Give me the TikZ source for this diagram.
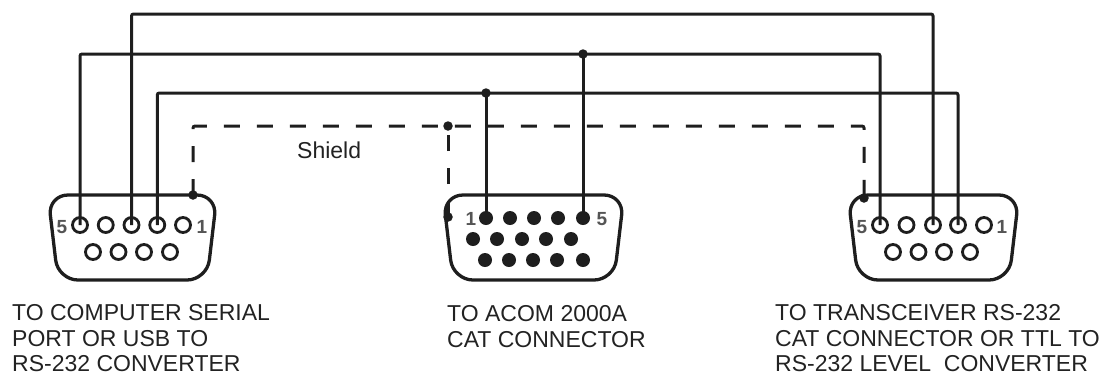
\documentclass[tikz,border=0pt]{standalone}
\usepackage{fontspec}
\setmainfont{Liberation Sans}
\definecolor{ink}{HTML}{1E1E1E}
\definecolor{textc}{HTML}{222222}
\definecolor{numc}{HTML}{555555}
\begin{document}
\begin{tikzpicture}[x=1pt,y=-1pt,
  wire/.style={line width=3pt, draw=ink, rounded corners=2pt},
  shieldwire/.style={wire, dash pattern=on 16pt off 17pt},
  shell/.style={line width=3.3pt, draw=ink, fill=white, rounded corners=20pt},
  openpin/.style={circle, draw=ink, line width=2.8pt, fill=white, minimum size=15pt, inner sep=0pt},
  fullpin/.style={circle, fill=ink, minimum size=14pt, inner sep=0pt},
  joint/.style={circle, fill=ink, minimum size=9.5pt, inner sep=0pt},
  pinnum/.style={font=\fontsize{19}{19}\selectfont\bfseries, text=numc, inner sep=0pt},
  caption/.style={font=\fontsize{23}{25.5}\selectfont, text=textc, align=left, anchor=north west, inner sep=0pt}]
\useasboundingbox (0,0) rectangle (1109,376);

% shells
\draw[shell] (132,195) -- (217,195) -- (207,280) -- (58,280) -- (48,195) -- cycle;
\draw[shell] (533,195) -- (624,195) -- (614,280) -- (453,280) -- (443,195) -- cycle;
\draw[shell] (933,195) -- (1019,195) -- (1009,280) -- (858,280) -- (848,195) -- cycle;

% left DB9 pins
\foreach \n/\x in {5/80,4/105.75,3/131.5,2/157.25,1/183}
  \node[openpin] (L\n) at (\x,225) {};
\foreach \n/\x in {9/93,8/118.5,7/144,6/170}
  \node[openpin] (L\n) at (\x,252) {};
% right DB9 pins
\foreach \n/\x in {5/880,4/906.5,3/933,2/958,1/984}
  \node[openpin] (R\n) at (\x,225) {};
\foreach \n/\x in {9/893,8/918.5,7/944,6/970}
  \node[openpin] (R\n) at (\x,252) {};
% center DB15 pins
\foreach \n/\x in {1/486,2/510,3/534,4/558,5/583}
  \node[fullpin] (C\n) at (\x,218) {};
\foreach \n/\x in {6/473,7/497,8/522,9/546,10/571}
  \node[fullpin] (C\n) at (\x,239) {};
\foreach \n/\x in {11/485,12/509,13/533,14/557,15/583}
  \node[fullpin] (C\n) at (\x,260) {};

% pin numbers
\node[pinnum] (nL5) at (62,227) {5};
\node[pinnum] (nL1) at (202,227) {1};
\node[pinnum] (nC1) at (471,219) {1};
\node[pinnum] (nC5) at (602,219) {5};
\node[pinnum] (nR5) at (862,227) {5};
\node[pinnum] (nR1) at (1002,227) {1};

% level coordinates
\coordinate (yA) at (0,14);
\coordinate (yB) at (0,54);
\coordinate (yC) at (0,93);
\coordinate (yS) at (0,126);
\coordinate (SL) at (193,195);
\coordinate (SC) at (448,217);
\coordinate (SR) at (864,198);

% wires
\draw[wire] (L3.center) -- (L3 |- yA) -- (R3 |- yA) -- (R3.center);
\draw[wire] (L5.center) -- (L5 |- yB) -- (R5 |- yB) -- (R5.center);
\draw[wire] (L2.center) -- (L2 |- yC) -- (R2 |- yC) -- (R2.center);
\draw[wire] (C5.center) -- (C5 |- yB) node[joint] (jB) {};
\draw[wire] (C1.center) -- (C1 |- yC) node[joint] (jC) {};

% shield
\draw[shieldwire] (SL) -- (SL |- yS) -- (SR |- yS) -- (SR);
\draw[shieldwire] (SC) -- (SC |- yS) node[joint] (jS) {};
\node[joint] (dSL) at (SL) {};
\node[joint] (dSC) at (SC) {};
\node[joint] (dSR) at (SR) {};

\node[font=\fontsize{23}{23}\selectfont, text=textc, anchor=base west, inner sep=0pt] (shield) at (297,158) {Shield};

% captions
\node[caption] (capL) at (12,304.5) {TO COMPUTER SERIAL\\PORT OR USB TO\\RS-232 CONVERTER};
\node[caption] (capC) at (447,305.5) {TO ACOM 2000A\\CAT CONNECTOR};
\node[caption] (capR) at (775,304.5) {TO TRANSCEIVER RS-232\\CAT CONNECTOR OR TTL TO\\RS-232 LEVEL\ \ CONVERTER};
\end{tikzpicture}
\end{document}
